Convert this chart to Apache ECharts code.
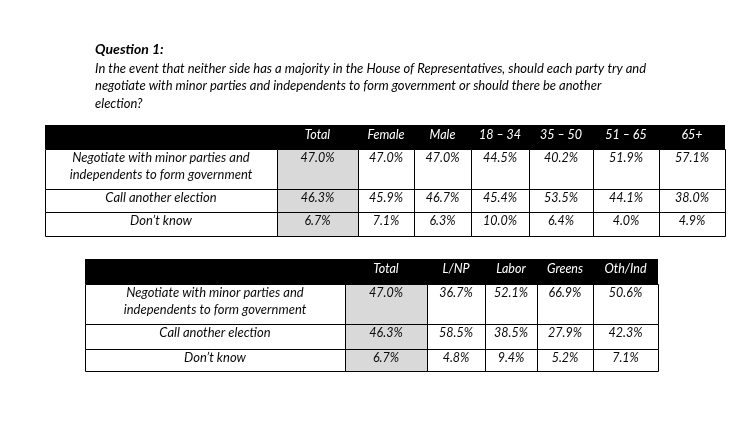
<!DOCTYPE html>
<html>
<head>
<meta charset="utf-8">
<script src="https://cdn.jsdelivr.net/npm/echarts@6/dist/echarts.min.js"></script>
<style>
  html, body { margin: 0; padding: 0; background: #fff; }
  #chart { width: 752px; height: 430px; }
</style>
</head>
<body>
<div id="chart"></div>
<script>
// ---------- DATA ----------
const questionTitle = 'Question 1:';
const questionText = 'In the event that neither side has a majority in the House of Representatives, should each party try and\nnegotiate with minor parties and independents to form government or should there be another\nelection?';

const responses = [
  'Negotiate with minor parties and\nindependents to form government',
  'Call another election',
  'Don\u2019t know'
];

// Table 1: demographic breakdown
const demoColumns = ['Total', 'Female', 'Male', '18 \u2013 34', '35 \u2013 50', '51 \u2013 65', '65+'];
const totalVals  = [47.0, 46.3, 6.7];
const femaleVals = [47.0, 45.9, 7.1];
const maleVals   = [47.0, 46.7, 6.3];
const age1834    = [44.5, 45.4, 10.0];
const age3550    = [40.2, 53.5, 6.4];
const age5165    = [51.9, 44.1, 4.0];
const age65plus  = [57.1, 38.0, 4.9];

// Table 2: party breakdown
const partyColumns = ['Total', 'L/NP', 'Labor', 'Greens', 'Oth/Ind'];
const lnpVals    = [36.7, 58.5, 4.8];
const laborVals  = [52.1, 38.5, 9.4];
const greensVals = [66.9, 27.9, 5.2];
const othVals    = [50.6, 42.3, 7.1];

// ---------- LAYOUT (styling only) ----------
const layout1 = {
  colWidths: [232, 81, 56, 57, 58, 64, 66, 66],
  rowHeights: [24, 40, 23, 24],
  grid: { left: 45, top: 125, width: 680, height: 111 }
};
const layout2 = {
  colWidths: [260, 82, 58, 52, 56, 65],
  rowHeights: [25, 40, 25, 22],
  grid: { left: 85, top: 259, width: 573, height: 112 }
};

const FONT = 'Lato, "Open Sans", sans-serif';
const TEXT_COLOR = '#0a0a0a';
const GRAY = '#d9d9d9';

function fmt(v) { return v.toFixed(1) + '%'; }

function buildCells(columns, valueCols) {
  const cells = [];
  cells.push({ value: [0, 0], text: '', kind: 'header' });
  columns.forEach((c, i) => cells.push({ value: [i + 1, 0], text: c, kind: 'header' }));
  responses.forEach((r, ri) => {
    cells.push({ value: [0, ri + 1], text: r, kind: 'label' });
    valueCols.forEach((vals, ci) => {
      cells.push({ value: [ci + 1, ri + 1], text: fmt(vals[ri]), kind: ci === 0 ? 'total' : 'body' });
    });
  });
  return cells;
}

const cells1 = buildCells(demoColumns, [totalVals, femaleVals, maleVals, age1834, age3550, age5165, age65plus]);
const cells2 = buildCells(partyColumns, [totalVals, lnpVals, laborVals, greensVals, othVals]);

function cumulative(arr) {
  const out = [0];
  arr.forEach(v => out.push(out[out.length - 1] + v));
  return out;
}

function makeRender(cells, lay) {
  const cx = cumulative(lay.colWidths);
  const cy = cumulative(lay.rowHeights);
  return function (params, api) {
    const col = api.value(0), row = api.value(1);
    const cell = cells[params.dataIndex];
    const p0 = api.coord([cx[col], cy[row]]);
    const p1 = api.coord([cx[col + 1], cy[row + 1]]);
    const x0 = Math.round(p0[0]), y0 = Math.round(p0[1]);
    const x1 = Math.round(p1[0]), y1 = Math.round(p1[1]);
    const w = x1 - x0, h = y1 - y0;
    const children = [];
    const fill = cell.kind === 'header' ? '#000' : (cell.kind === 'total' ? GRAY : '#fff');
    children.push({
      type: 'rect', z2: 0,
      shape: { x: x0, y: y0, width: w, height: h },
      style: { fill: fill }
    });
    if (cell.kind !== 'header') {
      children.push({
        type: 'rect', z2: 10,
        shape: { x: x0 + 0.5, y: y0 + 0.5, width: w, height: h },
        style: { fill: null, stroke: '#000', lineWidth: 1 }
      });
    }
    if (cell.text) {
      const size = cell.kind === 'label' ? 13 : 12.5;
      children.push({
        type: 'text', z2: 20,
        style: {
          x: (x0 + x1) / 2,
          y: y0 + (cell.kind === 'header' ? 1 : 0),
          text: cell.text,
          align: 'center',
          verticalAlign: 'top',
          fill: cell.kind === 'header' ? '#fff' : TEXT_COLOR,
          font: 'italic ' + size + 'px ' + FONT,
          lineHeight: 17
        }
      });
    }
    return { type: 'group', children: children };
  };
}

function axisPair(lay, idx) {
  const tw = lay.colWidths.reduce((a, b) => a + b, 0);
  const th = lay.rowHeights.reduce((a, b) => a + b, 0);
  return {
    x: { type: 'value', gridIndex: idx, min: 0, max: tw, show: false },
    y: { type: 'value', gridIndex: idx, min: 0, max: th, inverse: true, show: false }
  };
}

const a1 = axisPair(layout1, 0);
const a2 = axisPair(layout2, 1);

const chart = echarts.init(document.getElementById('chart'), null, { renderer: 'canvas' });
chart.setOption({
  backgroundColor: '#ffffff',
  animation: false,
  title: [
    {
      text: questionTitle, left: 90, top: 37,
      textStyle: { fontFamily: FONT, fontStyle: 'italic', fontWeight: 'bold', fontSize: 14, color: '#000' }
    },
    {
      text: questionText, left: 90, top: 55,
      textStyle: { fontFamily: FONT, fontStyle: 'italic', fontWeight: 'normal', fontSize: 13, lineHeight: 17.5, color: '#000' }
    }
  ],
  grid: [
    Object.assign({ containLabel: false }, layout1.grid),
    Object.assign({ containLabel: false }, layout2.grid)
  ],
  xAxis: [a1.x, a2.x],
  yAxis: [a1.y, a2.y],
  series: [
    {
      type: 'custom', xAxisIndex: 0, yAxisIndex: 0, clip: false, silent: true,
      renderItem: makeRender(cells1, layout1),
      encode: { x: 0, y: 1 },
      data: cells1
    },
    {
      type: 'custom', xAxisIndex: 1, yAxisIndex: 1, clip: false, silent: true,
      renderItem: makeRender(cells2, layout2),
      encode: { x: 0, y: 1 },
      data: cells2
    }
  ]
});
</script>
</body>
</html>
